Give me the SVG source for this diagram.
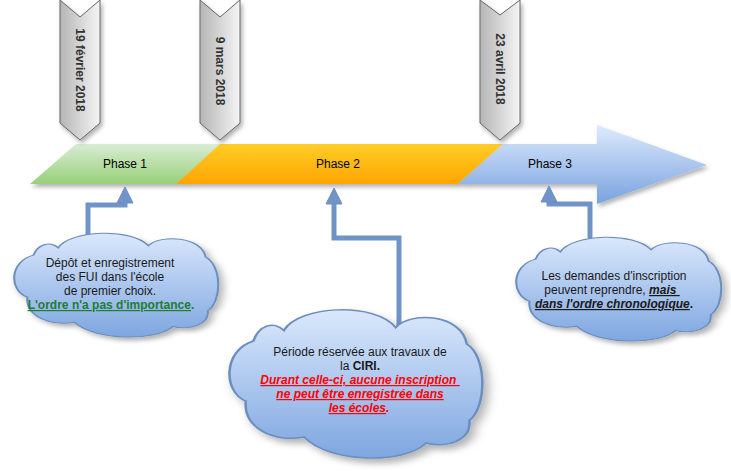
<svg xmlns="http://www.w3.org/2000/svg" width="731" height="471" viewBox="0 0 731 471">
<defs>
<linearGradient id="gGreen" x1="0" y1="0" x2="0" y2="1"><stop offset="0" stop-color="#d9ecd5"/><stop offset="1" stop-color="#97d077"/></linearGradient>
<linearGradient id="gOrange" x1="0" y1="0" x2="0" y2="1"><stop offset="0" stop-color="#ffcd28"/><stop offset="1" stop-color="#ffa500"/></linearGradient>
<linearGradient id="gBlue" gradientUnits="userSpaceOnUse" x1="0" y1="128" x2="0" y2="200"><stop offset="0" stop-color="#dae8fc"/><stop offset="1" stop-color="#7ea6e0"/></linearGradient>
<linearGradient id="gCloud" x1="0" y1="0" x2="0" y2="1"><stop offset="0" stop-color="#dae8fc"/><stop offset="1" stop-color="#7ea6e0"/></linearGradient>
<linearGradient id="gGray" x1="0" y1="0" x2="1" y2="0"><stop offset="0" stop-color="#b5b5b5"/><stop offset="1" stop-color="#f5f5f5"/></linearGradient>
<filter id="sh" x="-10%" y="-10%" width="130%" height="130%"><feDropShadow dx="2" dy="3" stdDeviation="2" flood-color="#000" flood-opacity="0.3"/></filter>
<marker id="ah" markerUnits="userSpaceOnUse" markerWidth="16" markerHeight="16" viewBox="0 0 16 16" refX="2" refY="8" orient="auto" overflow="visible"><path d="M0,0 L16,8 L0,16 Z" fill="#7093c8" stroke="#6c8ebf" stroke-width="1"/></marker>
<path id="cloudShape" d="M10,22 C12,12 18,8 22,15 C28,-2 58,-4 66,13 C72,2 92,4 94,24 C102,32 102,66 95,75 C96,88 86,94 78,90 C70,104 40,104 30,86 C18,90 6,80 7,62 C-2,56 -2,28 10,22 Z"/>
</defs>
<style>
.chev{fill:url(#gGray);stroke:#666;stroke-width:1;filter:url(#sh)}
.date{font-family:"Liberation Sans",Arial,sans-serif;font-size:12px;font-weight:bold;fill:#333;text-anchor:middle;dominant-baseline:central}
.ph{font-family:"Liberation Sans",Arial,sans-serif;font-size:12px;fill:#000;text-anchor:middle;dominant-baseline:central}
.cl{fill:url(#gCloud);stroke:#6c8ebf;stroke-width:1;vector-effect:non-scaling-stroke}
.ct{font-family:"Liberation Sans",Arial,sans-serif;font-size:12px;fill:#1a1a1a;text-anchor:middle;white-space:pre}
.conn{fill:none;stroke:#7093c8;stroke-width:5;marker-end:url(#ah)}
</style>

<g id="band" filter="url(#sh)">
<polygon points="30,184 76,144 220,144 176,184" fill="url(#gGreen)"/>
<polygon points="176,184 220,144 503,144 458,184" fill="url(#gOrange)"/>
<polygon points="458,184 503,144 597,144 597,125 707,165 597,204 597,184" fill="url(#gBlue)"/>
</g>
<g id="phase1"><text class="ph" x="125" y="164">Phase 1</text></g>
<g id="phase2"><text class="ph" x="338" y="164">Phase 2</text></g>
<g id="phase3"><text class="ph" x="550" y="164">Phase 3</text></g>

<g id="date1">
<polygon class="chev" points="60,0 80,17 100,0 100,123 80,140 60,123"/>
<text class="date" transform="translate(80,70) rotate(90)">19 février 2018</text>
</g>
<g id="date2">
<polygon class="chev" points="200,0 220,17 240,0 240,123 220,140 200,123"/>
<text class="date" transform="translate(220,71) rotate(90)">9 mars 2018</text>
</g>
<g id="date3">
<polygon class="chev" points="480,0 500,15 520,0 520,123 500,140 480,123"/>
<text class="date" transform="translate(500,69) rotate(90)">23 avril 2018</text>
</g>

<g id="connectors">
<path class="conn" d="M88,236 V205 H125 V201"/>
<path class="conn" d="M399,328 V238 H334 V202"/>
<path class="conn" d="M590,238 V204 H549 V200"/>
</g>

<g id="cloud1">
<use href="#cloudShape" class="cl" filter="url(#sh)" transform="translate(13,232) scale(2.05,1.05)"/>
<text class="ct" x="110" y="267">Dépôt et enregistrement</text>
<text class="ct" x="110" y="281">des FUI dans l'école</text>
<text class="ct" x="110" y="295">de premier choix.</text>
<text class="ct" x="111" y="309" font-weight="bold" style="fill:#1e7d32"><tspan text-decoration="underline">L'ordre n'a pas d'importance</tspan>.</text>
</g>

<g id="cloud2">
<use href="#cloudShape" class="cl" filter="url(#sh)" transform="translate(228,308) scale(2.54,1.5)"/>
<text class="ct" x="360" y="356">Période réservée aux travaux de</text>
<text class="ct" x="360" y="370">la <tspan font-weight="bold">CIRI.</tspan></text>
<text class="ct" x="360" y="384" font-weight="bold" font-style="italic" style="fill:#ff0000"><tspan text-decoration="underline">Durant celle-ci, aucune inscription </tspan></text>
<text class="ct" x="360" y="398" font-weight="bold" font-style="italic" style="fill:#ff0000"><tspan text-decoration="underline">ne peut être enregistrée dans</tspan></text>
<text class="ct" x="359" y="412" font-weight="bold" font-style="italic" style="fill:#ff0000"><tspan text-decoration="underline">les écoles</tspan>.</text>
</g>

<g id="cloud3">
<use href="#cloudShape" class="cl" filter="url(#sh)" transform="translate(515,236) scale(2.06,1.05)"/>
<text class="ct" x="614" y="280">Les demandes d'inscription</text>
<text class="ct" x="612" y="294">peuvent reprendre, <tspan font-weight="bold" font-style="italic" text-decoration="underline">mais </tspan></text>
<text class="ct" x="614" y="308"><tspan font-weight="bold" font-style="italic" text-decoration="underline">dans l'ordre chronologique</tspan><tspan font-weight="bold">.</tspan></text>
</g>
</svg>
